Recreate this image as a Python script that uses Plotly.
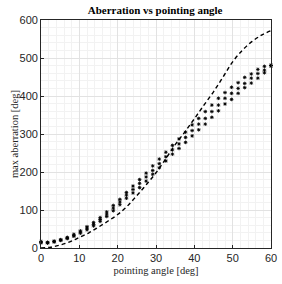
import numpy as np
import plotly.graph_objects as go

# pointing angle samples for the scattered runs (36 columns over 0..60 deg)
angle = [round(i * 60 / 35, 3) for i in range(36)]

run_a = [17, 15, 18, 22, 28, 36, 45, 56, 67, 80, 95, 112, 128, 146, 163, 180, 197, 216,
         234, 252, 270, 287, 305, 324, 341, 359, 376, 394, 409, 423, 435, 449, 458, 470, 478, 480]
run_b = [15, 14, 17, 21, 26, 33, 42, 52, 62, 75, 89, 105, 121, 139, 154, 170, 187, 204,
         222, 240, 258, 274, 291, 309, 326, 341, 359, 376, 394, 407, 420, 433, 447, 459, 468, 480]
run_c = [14, 13, 16, 20, 25, 31, 39, 48, 58, 70, 83, 98, 114, 131, 145, 159, 176, 194,
         211, 229, 247, 262, 278, 295, 311, 326, 344, 361, 379, 391, 407, 422, 434, 447, 461, 480]

# dashed reference curve
ref_angle = [0, 2.5, 5, 7.5, 10, 12.5, 15, 17.5, 20, 22.5, 25, 27.5, 30, 32.5, 35, 37.5,
             40, 42.5, 45, 47.5, 50, 52.5, 55, 57.5, 60]
ref_aberr = [0, 2, 8, 16, 28, 40, 55, 71, 88, 110, 138, 167, 198, 234, 272, 305,
             340, 376, 411, 450, 490, 520, 543, 560, 572]

x_ticks = [0, 10, 20, 30, 40, 50, 60]
y_ticks = [0, 100, 200, 300, 400, 500, 600]

fig = go.Figure()
fig.add_trace(go.Scatter(x=ref_angle, y=ref_aberr, mode="lines", line_shape="spline",
                         line=dict(color="black", width=1.4, dash="4px,3px"),
                         showlegend=False, cliponaxis=False))
for run in (run_a, run_b, run_c):
    fig.add_trace(go.Scatter(x=angle, y=run, mode="markers",
                             marker=dict(symbol="asterisk-open", size=3, color="black",
                                         line=dict(color="black", width=0.9)),
                             showlegend=False, cliponaxis=False))

axis_common = dict(showline=True, mirror=True, linecolor="#262626", linewidth=0.8,
                   ticks="inside", ticklen=3, tickcolor="#262626", automargin=False,
                   gridcolor="#e2e2e2", gridwidth=0.7, zeroline=False,
                   tickfont=dict(family="Liberation Sans, Arial", size=11, color="#262626"))

label_font = dict(family="Liberation Serif, Times New Roman", size=10.5, color="#262626")

fig.update_xaxes(range=[0, 60], tickvals=x_ticks, ticktext=[str(v) for v in x_ticks],
                 minor=dict(dtick=2, showgrid=True, gridcolor="#f2f2f2", gridwidth=0.6, ticks=""),
                 title=dict(text="pointing angle [deg]", standoff=3, font=label_font),
                 **axis_common)
fig.update_yaxes(range=[0, 600], tickvals=y_ticks, ticktext=[str(v) for v in y_ticks],
                 minor=dict(dtick=20, showgrid=True, gridcolor="#f2f2f2", gridwidth=0.6, ticks=""),
                 **axis_common)

fig.add_annotation(text="max aberration [deg]", xref="paper", yref="paper",
                   x=-0.117, y=0.5, xanchor="center", yanchor="middle",
                   textangle=-90, showarrow=False, font=label_font)

fig.update_layout(
    width=282, height=284,
    margin=dict(l=41, r=11, t=20, b=36, autoexpand=False),
    paper_bgcolor="white", plot_bgcolor="white",
    title=dict(text="<b>Aberration vs pointing angle</b>", x=0.55, xanchor="center",
               y=0.965, yanchor="middle",
               font=dict(family="Liberation Serif, Times New Roman", size=11, color="black")),
)

fig.write_html("out.html", config={"displayModeBar": False},
               post_script="document.body.style.margin='0';document.body.style.overflow='hidden';")
